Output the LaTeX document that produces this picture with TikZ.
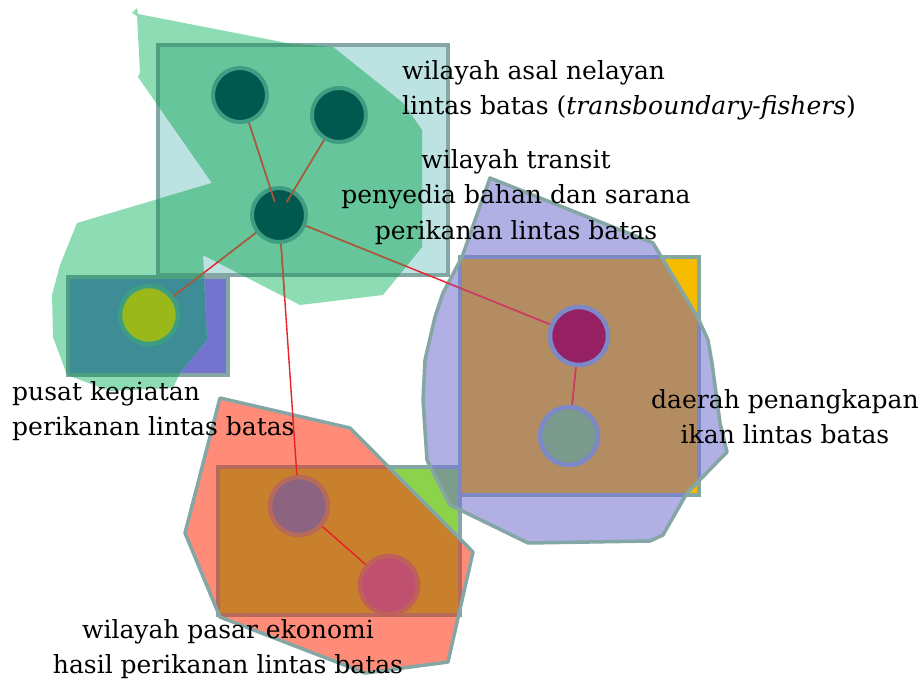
\documentclass[tikz,border=0pt]{standalone}
\usepackage{fontspec}
\setmainfont{DejaVu Serif}
\definecolor{lightblue}{HTML}{BCE2E2}
\definecolor{purplerect}{HTML}{7474CE}
\definecolor{rectgray}{HTML}{84A6A4}
\definecolor{greenout}{HTML}{8EDCB4}
\definecolor{greenin}{HTML}{66C59B}
\definecolor{tealov}{HTML}{3E8C95}
\definecolor{greenborder}{HTML}{4E9E80}
\definecolor{yellowrect}{HTML}{F5BC00}
\definecolor{brownov}{HTML}{B48C62}
\definecolor{bluishborder}{HTML}{7C88C4}
\definecolor{limegreen}{HTML}{8CD24A}
\definecolor{grayov}{HTML}{7C9C8C}
\definecolor{lav}{HTML}{B0B0E4}
\definecolor{salmon}{HTML}{FF8C78}
\definecolor{orangebrown}{HTML}{C8802C}
\definecolor{redborder}{HTML}{B86A5A}
\definecolor{darkteal}{HTML}{00584E}
\definecolor{circborder}{HTML}{3E9E82}
\definecolor{yellowgreen}{HTML}{9AB81A}
\definecolor{maroon}{HTML}{962064}
\definecolor{circblue}{HTML}{7C88C8}
\definecolor{graygreen}{HTML}{7A9A8E}
\definecolor{mauve}{HTML}{8C6482}
\definecolor{pinkc}{HTML}{C05070}
\definecolor{pinkborder}{HTML}{C0605A}
\definecolor{linkred}{HTML}{E8202A}
\definecolor{linkbrown}{HTML}{A0603A}
\definecolor{linkpink}{HTML}{C83C6E}
\begin{document}
\begin{tikzpicture}[x=1pt,y=-1pt,
  lbl/.style={font=\fontsize{25}{35.5}\selectfont, inner sep=0pt, text=black},
  hub/.style={circle, minimum size=54pt, inner sep=0pt, line width=4pt},
  hubbig/.style={circle, minimum size=58pt, inner sep=0pt, line width=4.5pt},
  link/.style={line width=1.4pt, draw=linkred},
  rectone/.style={insert path={(158,45) rectangle (448,275)}},
  recttwo/.style={insert path={(68,277) rectangle (228,375)}},
  rectthree/.style={insert path={(460,257) rectangle (699,495)}},
  rectfour/.style={insert path={(218,467) rectangle (460,615)}},
  gpoly/.style={insert path={(132,13) -- (137,8) -- (138,14) -- (287,43) -- (333,47) -- (403,103) -- (422,130) -- (422,247) -- (383,295) -- (300,305) -- (203,255) -- (207,340) -- (180,373) -- (173,388) -- (110,391) -- (67,375) -- (53,337) -- (52,295) -- (60,265) -- (77,223) -- (212,183) -- (138,77) -- (140,72) -- (137,16) -- cycle}},
  lpoly/.style={insert path={(490,178) -- (653,243) -- (698,318) -- (708,340) -- (712,363) -- (720,423) -- (727,452) -- (687,493) -- (663,535) -- (650,541) -- (528,543) -- (450,505) -- (427,460) -- (423,400) -- (425,360) -- (435,317) -- (443,293) -- (462,257) -- cycle}},
  spoly/.style={insert path={(220,398) -- (350,428) -- (473,552) -- (448,662) -- (365,673) -- (220,617) -- (185,533) -- cycle}},
  border/.style={line width=4pt, draw=rectgray},
]
\useasboundingbox (0,0) rectangle (924,680);

% top-left group
\filldraw[border, fill=lightblue, rectone];
\filldraw[border, fill=purplerect, recttwo];
\fill[greenout, gpoly];
\begin{scope}
  \clip[gpoly];
  \filldraw[border, draw=greenborder, fill=greenin, rectone];
  \filldraw[border, draw=greenborder, fill=tealov, recttwo];
\end{scope}

% right and bottom rectangles
\filldraw[border, fill=yellowrect, rectthree];
\filldraw[border, fill=limegreen, rectfour];

% lavender polygon
\fill[lav, lpoly];
\begin{scope}
  \clip[lpoly];
  \filldraw[border, draw=bluishborder, fill=brownov, rectthree];
  \filldraw[border, draw=bluishborder, fill=grayov, rectfour];
\end{scope}
\draw[line width=3.5pt, draw=rectgray, line join=round, lpoly];

% salmon polygon
\fill[salmon, spoly];
\begin{scope}
  \clip[spoly];
  \filldraw[border, draw=redborder, fill=orangebrown, rectfour];
\end{scope}
\draw[line width=3.5pt, draw=rectgray, line join=round, spoly];

% circles
\node[hub, fill=darkteal, draw=circborder] (c1) at (240,95) {};
\node[hub, fill=darkteal, draw=circborder] (c2) at (339,115) {};
\node[hub, fill=darkteal, draw=circborder] (c3) at (279,215) {};
\node[hubbig, fill=yellowgreen, draw=circborder] (cy) at (149,315) {};
\node[hubbig, fill=maroon, draw=circblue] (cm) at (579,336) {};
\node[hubbig, fill=graygreen, draw=circblue] (ct) at (569,436) {};
\node[hubbig, fill=mauve, draw=redborder] (cp) at (299,506) {};
\node[hubbig, fill=pinkc, draw=pinkborder] (ck) at (389,585) {};

% connectors
\draw[link, shorten >=-15pt] (c1) -- (c3);
\draw[link, shorten >=-14pt] (c2) -- (c3);
\draw[link] (c3) -- (cy);
\draw[link] (c3) -- (cp);
\draw[link] (c3) -- (cm);
\draw[link] (cm) -- (ct);
\draw[link] (cp) -- (ck);
\begin{scope}
  \clip[gpoly];
  \draw[link, draw=linkbrown, shorten >=-15pt] (c1) -- (c3);
  \draw[link, draw=linkbrown, shorten >=-14pt] (c2) -- (c3);
  \draw[link, draw=linkbrown] (c3) -- (cy);
  \draw[link, draw=linkbrown] (c3) -- (cp);
  \draw[link, draw=linkbrown] (c3) -- (cm);
\end{scope}
\begin{scope}
  \clip[lpoly];
  \draw[link, draw=linkpink] (c3) -- (cm);
  \draw[link, draw=linkpink] (cm) -- (ct);
\end{scope}

% labels
\node[lbl, anchor=north west, align=left] (t1) at (402,60)
  {wilayah asal nelayan\\lintas batas (\textit{transboundary-fishers})};
\node[lbl, anchor=north, align=center] (t2) at (516,149)
  {wilayah transit\\penyedia bahan dan sarana\\perikanan lintas batas};
\node[lbl, anchor=north west, align=left] (t3) at (12,381)
  {pusat kegiatan\\perikanan lintas batas};
\node[lbl, anchor=north, align=center] (t4) at (785,389)
  {daerah penangkapan\\ikan lintas batas};
\node[lbl, anchor=north, align=center] (t5) at (228,619)
  {wilayah pasar ekonomi\\hasil perikanan lintas batas};
\end{tikzpicture}
\end{document}
